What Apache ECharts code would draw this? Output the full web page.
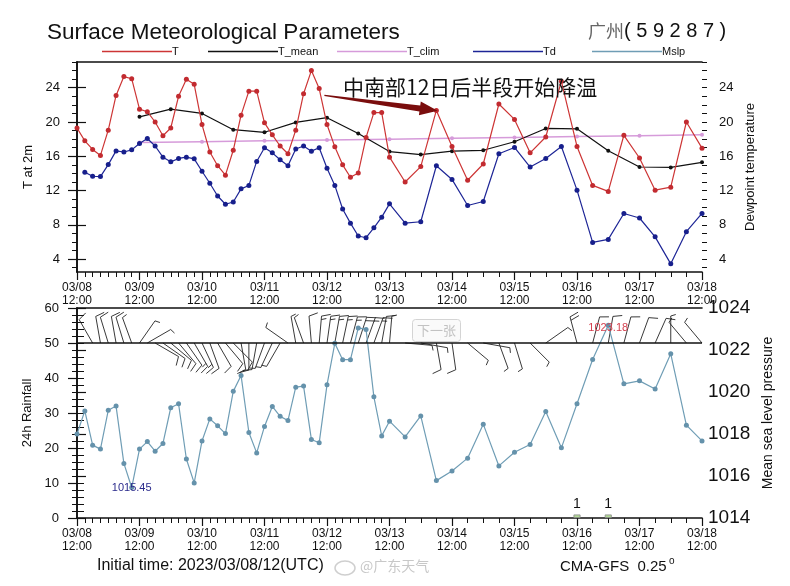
<!DOCTYPE html>
<html>
<head>
<meta charset="utf-8">
<script src="https://cdn.jsdelivr.net/npm/echarts@6/dist/echarts.min.js"></script>
<style>
html,body{margin:0;padding:0;background:#fff}
#main{width:790px;height:586px}
</style>
</head>
<body>
<div id="main"></div>
<script>
// forecast hours from 03/08 12:00 (3h steps, then 6h steps)
var hours = [0,3,6,9,12,15,18,21,24,27,30,33,36,39,42,45,48,51,54,57,60,63,66,69,72,75,78,81,84,87,90,93,96,99,102,105,108,111,114,117,
  120,126,132,138,144,150,156,162,168,174,180,186,192,198,204,210,216,222,228,234,240];
var dayLabels = ['03/08','03/09','03/10','03/11','03/12','03/13','03/14','03/15','03/16','03/17','03/18'];
var dayHours = [0,24,48,72,96,120,144,168,192,216,240];

// 2m temperature
var tempT = [19.3,17.8,16.8,16.1,19.05,23.1,25.3,25.05,21.5,21.2,20.0,18.4,19.3,23.0,25.0,24.4,19.7,16.5,14.9,13.8,16.7,20.8,23.6,23.6,19.9,18.5,17.2,16.3,19.05,23.3,26.0,23.9,19.7,17.1,15.0,13.55,14.06,18.2,21.1,21.1,
  15.9,13.0,14.8,21.35,17.15,13.2,15.1,22.1,20.3,16.4,18.25,24.75,17.15,12.6,11.9,18.45,15.8,12.05,12.4,20.0,16.95];
// dewpoint (starts at +3h)
var tempTd = [14.14,13.67,13.63,15.03,16.63,16.5,16.75,17.5,18.07,17.2,15.9,15.35,15.75,15.9,15.7,14.25,12.85,11.37,10.4,10.67,12.2,12.6,15.4,17.0,16.4,15.6,14.9,16.85,17.2,16.6,17.0,14.6,12.6,9.85,8.2,6.7,6.5,7.65,8.9,
  10.45,8.2,8.36,14.9,13.3,10.26,10.73,16.3,17.03,14.74,15.75,17.15,12.05,5.95,6.3,9.33,8.8,6.6,3.45,7.2,9.33];
var meanHours = [24,36,48,60,72,84,96,108,120,132,144,156,168,180,192,204,216,228,240];
var tempMean = [20.6,21.5,21.0,19.1,18.8,19.95,20.5,18.65,16.55,16.2,16.6,16.7,17.7,19.25,19.2,16.65,14.75,14.7,15.3];
var climHours = [24,48,72,96,120,144,168,192,216,240];
var tempClim = [17.6,17.7,17.8,17.9,18.0,18.1,18.2,18.3,18.4,18.5];

// mean sea level pressure
var mslp = [1018.0,1019.1,1017.47,1017.28,1019.13,1019.33,1016.6,1015.45,1017.28,1017.64,1017.18,1017.55,1019.25,1019.44,1016.81,1015.67,1017.67,1018.72,1018.39,1018.02,
  1020.03,1020.79,1018.07,1017.1,1018.36,1019.31,1018.84,1018.64,1020.23,1020.28,1017.74,1017.58,1020.34,1022.32,1021.54,1021.54,1023.05,1022.98,1019.77,1017.91,
  1018.61,1017.86,1018.86,1015.78,1016.24,1016.85,1018.47,1016.48,1017.13,1017.5,1019.07,1017.34,1019.44,1021.55,1023.18,1020.39,1020.53,1020.14,1021.82,1018.42,1017.67];

// 24h rainfall
var rainHours = [192,204];
var rain = [1,1];

// wind barbs: direction (deg, from) and speed, null = none drawn
var windDir = [null,null,330,350,343,350,343,340,35,60,120,125,130,140,145,150,155,160,150,140,135,170,180,190,200,205,210,305,350,340,355,5,8,10,12,15,18,20,20,10,
  5,95,100,170,172,130,100,160,163,135,55,null,345,15,10,15,20,24,0,320,320];
var windSpd = [null,null,10,10,10,10,10,5,5,5,10,10,10,10,10,15,15,10,10,10,10,10,10,10,5,5,5,5,5,5,10,15,15,15,15,15,20,15,15,10,
  5,5,5,10,10,5,5,5,5,5,5,null,20,10,10,10,10,10,5,5,5];
var barbLevel = 50;

var cT = '#cd3535', cMean = '#111111', cClim = '#d69bda', cTd = '#1d2596', cMslp = '#6f9db5';
var FONT = 'Liberation Sans, Arial, sans-serif';

function pairs(ts, vs){
  var out = [];
  for (var i = 0; i < vs.length; i++) out.push([ts[i], vs[i]]);
  return out;
}

var mslpData = pairs(hours, mslp);
var iMin = 0, iMax = 0;
for (var i = 0; i < mslp.length; i++){
  if (mslp[i] < mslp[iMin]) iMin = i;
  if (mslp[i] > mslp[iMax]) iMax = i;
}
mslpData[iMin] = {value: mslpData[iMin], label: {show: true, position: 'inside', offset: [0, 0], color: '#2b2b8c', fontSize: 11, fontFamily: FONT, formatter: mslp[iMin].toFixed(2)}};
mslpData[iMax] = {value: mslpData[iMax], label: {show: true, position: 'inside', offset: [0, 3], color: '#d5404f', fontSize: 11, fontFamily: FONT, formatter: mslp[iMax].toFixed(2)}};

var barbData = [];
for (var j = 0; j < hours.length; j++){
  if (windDir[j] !== null) barbData.push([hours[j], barbLevel, windDir[j], windSpd[j]]);
}

function renderBarb(params, api){
  var base = api.coord([api.value(0), api.value(1)]);
  var r = api.value(2) * Math.PI / 180;
  var ux = Math.sin(r), uy = -Math.cos(r);
  var L = 27;
  var tip = [base[0] + ux * L, base[1] + uy * L];
  var px = -uy, py = ux;
  var st = {stroke: '#222', lineWidth: 0.9};
  var kids = [{type: 'line', shape: {x1: base[0], y1: base[1], x2: tip[0], y2: tip[1]}, style: st}];
  var n = Math.round(api.value(3) / 5);
  var full = Math.floor(n / 2), half = n % 2, pos = 0;
  for (var k = 0; k < full; k++){
    var s = [tip[0] - ux * pos, tip[1] - uy * pos];
    kids.push({type: 'line', shape: {x1: s[0], y1: s[1], x2: s[0] + px * 9 + ux * 2.5, y2: s[1] + py * 9 + uy * 2.5}, style: st});
    pos += 3.5;
  }
  if (half){
    var h = [tip[0] - ux * pos, tip[1] - uy * pos];
    kids.push({type: 'line', shape: {x1: h[0], y1: h[1], x2: h[0] + px * 5 + ux * 1.5, y2: h[1] + py * 5 + uy * 1.5}, style: st});
  }
  return {type: 'group', children: kids};
}

var axisLineStyle = {show: true, lineStyle: {color: '#111', width: 1.6}};
function xMajor(grid){
  return {type: 'value', gridIndex: grid, min: 0, max: 240, position: 'bottom',
    axisLine: axisLineStyle,
    axisTick: {show: true, length: 8, customValues: dayHours, lineStyle: {color: '#111', width: 1.2}},
    axisLabel: {show: true, customValues: dayHours, margin: 9, color: '#111', fontSize: 12, lineHeight: 13, fontFamily: FONT,
      formatter: function(v){ return dayLabels[Math.round(v / 24)] + '\n12:00'; }},
    splitLine: {show: false}};
}
function xMinor(grid){
  return {type: 'value', gridIndex: grid, min: 0, max: 240, position: 'bottom',
    axisLine: {show: false},
    axisTick: {show: true, length: 5, customValues: hours, lineStyle: {color: '#111', width: 1}},
    axisLabel: {show: false}, splitLine: {show: false}};
}
function xTop(grid){
  return {type: 'value', gridIndex: grid, min: 0, max: 240, position: 'top',
    axisLine: axisLineStyle, axisTick: {show: false}, axisLabel: {show: false}, splitLine: {show: false}};
}
var tMajor = [4,8,12,16,20,24];
var tMinor = [];
for (var m = 3; m <= 27; m++) tMinor.push(m);
function yTemp(pos, name, gap){
  return {type: 'value', gridIndex: 0, min: 2.5, max: 27, position: pos,
    name: name, nameLocation: 'middle', nameRotate: 90, nameGap: gap,
    nameTextStyle: {color: '#111', fontSize: 13, fontFamily: FONT},
    axisLine: axisLineStyle,
    axisTick: {show: true, length: 9, customValues: tMajor, lineStyle: {color: '#111', width: 1.2}},
    axisLabel: {show: true, customValues: tMajor, margin: 17, color: '#111', fontSize: 13, fontFamily: FONT},
    splitLine: {show: false}};
}
function yTempMinor(pos){
  return {type: 'value', gridIndex: 0, min: 2.5, max: 27, position: pos,
    axisLine: {show: false},
    axisTick: {show: true, length: 5, customValues: tMinor, lineStyle: {color: '#111', width: 1}},
    axisLabel: {show: false}, splitLine: {show: false}};
}

var option = {
  backgroundColor: '#fff',
  animation: false,
  grid: [
    {left: 77, top: 62, width: 625, height: 210, outerBoundsMode: 'none'},
    {left: 77, top: 308, width: 625, height: 210, outerBoundsMode: 'none'}
  ],
  xAxis: [xMajor(0), xMinor(0), xTop(0), xMajor(1), xMinor(1), xTop(1)],
  yAxis: [
    yTemp('left', 'T at 2m', 40), yTempMinor('left'),
    yTemp('right', 'Dewpoint temperature', 38), yTempMinor('right'),
    {type: 'value', gridIndex: 1, min: 0, max: 60, interval: 10, position: 'left',
      name: '24h Rainfall', nameLocation: 'middle', nameRotate: 90, nameGap: 40,
      nameTextStyle: {color: '#111', fontSize: 13, fontFamily: FONT},
      axisLine: axisLineStyle,
      axisTick: {show: true, length: 9, lineStyle: {color: '#111', width: 1.2}},
      minorTick: {show: true, splitNumber: 5, length: 5, lineStyle: {color: '#111', width: 1}},
      axisLabel: {margin: 18, color: '#111', fontSize: 13, fontFamily: FONT},
      splitLine: {show: false}},
    {type: 'value', gridIndex: 1, min: 1014, max: 1024, interval: 2, position: 'right',
      name: 'Mean sea level pressure', nameLocation: 'middle', nameRotate: 90, nameGap: 50,
      nameTextStyle: {color: '#111', fontSize: 14, fontFamily: FONT},
      axisLine: axisLineStyle,
      axisTick: {show: true, length: 9, lineStyle: {color: '#111', width: 1.2}},
      minorTick: {show: true, splitNumber: 6, length: 7, lineStyle: {color: '#111', width: 1}},
      axisLabel: {margin: 6, color: '#111', fontSize: 19, fontFamily: FONT,
        formatter: function(v){ return String(v); }},
      splitLine: {show: false}}
  ],
  series: [
    {name: 'T', type: 'line', xAxisIndex: 0, yAxisIndex: 0, data: pairs(hours, tempT),
      symbol: 'circle', symbolSize: 5, lineStyle: {color: cT, width: 1.2}, itemStyle: {color: '#c22b30'}, z: 4},
    {name: 'T_mean', type: 'line', xAxisIndex: 0, yAxisIndex: 0, data: pairs(meanHours, tempMean),
      symbol: 'circle', symbolSize: 4, lineStyle: {color: cMean, width: 1.2}, itemStyle: {color: cMean}, z: 3},
    {name: 'T_clim', type: 'line', xAxisIndex: 0, yAxisIndex: 0, data: pairs(climHours, tempClim),
      symbol: 'circle', symbolSize: 4, lineStyle: {color: cClim, width: 1.5}, itemStyle: {color: cClim}, z: 2},
    {name: 'Td', type: 'line', xAxisIndex: 0, yAxisIndex: 0, data: pairs(hours.slice(1), tempTd),
      symbol: 'circle', symbolSize: 5, lineStyle: {color: cTd, width: 1.2}, itemStyle: {color: '#171f8c'}, z: 4},
    {name: 'Rain', type: 'bar', xAxisIndex: 3, yAxisIndex: 4, data: pairs(rainHours, rain), barWidth: 7,
      itemStyle: {color: '#b3da98', borderColor: '#8a8a8a', borderWidth: 0.8},
      label: {show: true, position: 'top', distance: 3, color: '#111', fontSize: 14, fontFamily: FONT},
      markLine: {silent: true, symbol: 'none', label: {show: false},
        lineStyle: {color: '#111', width: 1.6, type: 'solid'}, data: [{yAxis: barbLevel}]}},
    {name: 'Wind', type: 'custom', xAxisIndex: 3, yAxisIndex: 4, data: barbData, renderItem: renderBarb,
      encode: {x: 0, y: 1}, silent: true, z: 2},
    {name: 'Mslp', type: 'line', xAxisIndex: 3, yAxisIndex: 5, data: mslpData,
      symbol: 'circle', symbolSize: 5, lineStyle: {color: cMslp, width: 1.2}, itemStyle: {color: '#6592ab'}, z: 4}
  ]
};

var chart = echarts.init(document.getElementById('main'));
chart.setOption(option);

// annotation arrow anchored to the temperature axes
var a = chart.convertToPixel({xAxisIndex: 0, yAxisIndex: 0}, [95, 23.1]);
var b = chart.convertToPixel({xAxisIndex: 0, yAxisIndex: 0}, [138.5, 21.3]);
var dx = b[0] - a[0], dy = b[1] - a[1], len = Math.sqrt(dx * dx + dy * dy);
var ux = dx / len, uy = dy / len, nx = -uy, ny = ux;
var neck = [b[0] - ux * 18, b[1] - uy * 18];
var arrowPts = [
  [a[0] + nx * 0.7, a[1] + ny * 0.7],
  [neck[0] + nx * 3, neck[1] + ny * 3],
  [neck[0] + nx * 7, neck[1] + ny * 7],
  b,
  [neck[0] - nx * 7, neck[1] - ny * 7],
  [neck[0] - nx * 3, neck[1] - ny * 3],
  [a[0] - nx * 0.7, a[1] - ny * 0.7]
];

var legendItems = [
  {name: 'T', color: cT, x: 102},
  {name: 'T_mean', color: cMean, x: 208},
  {name: 'T_clim', color: cClim, x: 337},
  {name: 'Td', color: cTd, x: 473},
  {name: 'Mslp', color: cMslp, x: 592}
];
var graphics = [
  {type: 'text', left: 47, top: 21, style: {text: 'Surface Meteorological Parameters', font: '22.5px ' + FONT, fill: '#111'}},
  {type: 'text', left: 588, top: 21, style: {text: '{a|广州}{b|( 5 9 2 8 7 )}',
    rich: {a: {fontSize: 18, fontFamily: 'Noto Sans CJK SC', fill: '#666', color: '#666'},
           b: {fontSize: 20, fontFamily: FONT, fill: '#111', color: '#111'}}}},
  {type: 'text', left: 343, top: 77, style: {text: '中南部12日后半段开始降温', font: '21px "Noto Sans CJK SC"', fill: '#111'}, z: 10},
  {type: 'polygon', shape: {points: arrowPts}, style: {fill: '#7a0d0d'}, z: 10},
  {type: 'group', left: 412, top: 319, z: 10, children: [
    {type: 'rect', shape: {x: 0, y: 0, width: 48, height: 22, r: 3}, style: {fill: 'rgba(250,250,250,0.9)', stroke: '#d4d4d4', lineWidth: 1}},
    {type: 'text', x: 24, y: 11, style: {text: '下一张', font: '13px "Noto Sans CJK SC"', fill: '#c2c2c2', align: 'center', verticalAlign: 'middle'}}
  ]},
  {type: 'text', left: 97, top: 558, style: {text: 'Initial time: 2023/03/08/12(UTC)', font: '16px ' + FONT, fill: '#111'}},
  {type: 'ellipse', shape: {cx: 345, cy: 568, rx: 10, ry: 7}, style: {fill: 'none', stroke: '#cfcfcf', lineWidth: 1.5}},
  {type: 'text', left: 360, top: 559, style: {text: '@广东天气', font: '14px "Noto Sans CJK SC"', fill: '#c8c8c8'}},
  {type: 'text', left: 560, top: 559, style: {text: 'CMA-GFS  0.25', font: '15px ' + FONT, fill: '#111'}},
  {type: 'text', left: 669, top: 556, style: {text: 'o', font: '10px ' + FONT, fill: '#111'}}
];
legendItems.forEach(function(it){
  graphics.push({type: 'line', shape: {x1: it.x, y1: 51.5, x2: it.x + 70, y2: 51.5}, style: {stroke: it.color, lineWidth: 1.5}});
  graphics.push({type: 'text', x: it.x + 70, y: 52, style: {text: it.name, font: '11px ' + FONT, fill: '#111', verticalAlign: 'middle'}});
});
chart.setOption({graphic: graphics});
</script>
</body>
</html>
